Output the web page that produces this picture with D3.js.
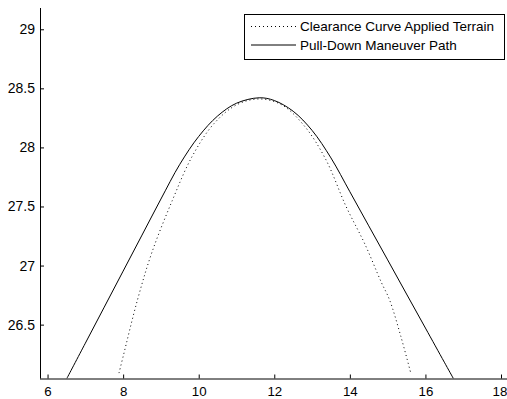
<!DOCTYPE html>
<html><head><meta charset="utf-8">
<script src="https://cdn.jsdelivr.net/npm/d3@7"></script>
<style>
html,body{margin:0;padding:0;background:#fff;}
svg{display:block;}
text{font-family:"Liberation Sans",Arial,sans-serif;fill:#000;}
</style></head><body>
<svg id="chart" width="507" height="399"></svg>
<script>
// ---- data ----
const xTicks = [6, 8, 10, 12, 14, 16, 18];
const yTicks = [26.5, 27, 27.5, 28, 28.5, 29];
const yTickLabels = ["26.5", "27", "27.5", "28", "28.5", "29"];

// Clearance Curve Applied Terrain (dotted)
const clearX = [7.89, 8.0, 8.38, 8.76, 9.3, 9.82, 10.4, 11.0, 11.6, 12.2, 12.8, 13.36, 13.9, 14.4, 14.83, 15.05, 15.35, 15.62];
const clearY = [26.09, 26.23, 26.71, 27.11, 27.55, 27.92, 28.2, 28.36, 28.41, 28.36, 28.18, 27.90, 27.50, 27.18, 26.86, 26.71, 26.40, 26.08];

// Pull-Down Maneuver Path (solid)
const pathX = [6.51, 7.0, 7.5, 8.0, 8.5, 9.0, 9.5, 10.0, 10.5, 11.0, 11.6, 12.0, 12.5, 13.0, 13.5, 14.0, 14.5, 15.0, 15.5, 16.0, 16.5, 16.74];
const pathY = [26.044, 26.343, 26.648, 26.953, 27.258, 27.563, 27.857, 28.093, 28.266, 28.374, 28.42, 28.397, 28.306, 28.144, 27.911, 27.625, 27.336, 27.048, 26.759, 26.471, 26.182, 26.044];

const seriesNames = ["Clearance Curve Applied Terrain", "Pull-Down Maneuver Path"];

// ---- layout ----
const svg = d3.select("#chart");
const plot = {left: 40, right: 507, top: 8, bottom: 378.5};
const x = d3.scaleLinear().domain([5.8, 18.0 + (507 - 501) / 37.8]).range([plot.left, plot.right]);
const y = d3.scaleLinear().domain([26.044, 29.18]).range([plot.bottom, plot.top]);

svg.append("defs").append("clipPath").attr("id", "clip")
  .append("rect").attr("x", plot.left).attr("y", plot.top)
  .attr("width", plot.right - plot.left).attr("height", plot.bottom - plot.top);

const line = d3.line().x(d => x(d[0])).y(d => y(d[1])).curve(d3.curveCatmullRom.alpha(0.5));

const g = svg.append("g").attr("clip-path", "url(#clip)");
g.append("path").datum(clearX.map((v, i) => [v, clearY[i]]))
  .attr("d", line).attr("fill", "none").attr("stroke", "#000")
  .attr("stroke-width", 1).attr("stroke-dasharray", "1,3");
g.append("path").datum(pathX.map((v, i) => [v, pathY[i]]))
  .attr("d", line).attr("fill", "none").attr("stroke", "#000")
  .attr("stroke-width", 1);

// ---- axes (MATLAB style, inward ticks) ----
const xAxis = d3.axisBottom(x).tickValues(xTicks).tickSize(-4).tickPadding(8).tickFormat(d3.format("d"));
const gx = svg.append("g").attr("transform", `translate(0,${plot.bottom})`).call(xAxis);
gx.select(".domain").attr("d", `M${plot.left},0.5H${plot.right}`).attr("stroke", "#000");
gx.selectAll(".tick line").attr("stroke", "#000");
gx.selectAll(".tick text").attr("font-size", 13.3).attr("font-family", "Liberation Sans, Arial, sans-serif").attr("dy", "0.71em")
  .attr("dx", d => d === 18 ? -1.5 : 0);

const yAxis = d3.axisLeft(y).tickValues(yTicks).tickSize(-4).tickPadding(5).tickFormat((d, i) => yTickLabels[i]);
const gy = svg.append("g").attr("transform", `translate(${plot.left},0)`).call(yAxis);
gy.select(".domain").attr("d", `M0.5,${plot.top}V${plot.bottom}`).attr("stroke", "#000");
gy.selectAll(".tick line").attr("stroke", "#000");
gy.selectAll(".tick text").attr("font-size", 14).attr("font-family", "Liberation Sans, Arial, sans-serif");

// ---- legend ----
const leg = svg.append("g");
leg.append("rect").attr("x", 244.5).attr("y", 14.5).attr("width", 260).attr("height", 45)
  .attr("fill", "#fff").attr("stroke", "#000").attr("stroke-width", 1);
const rowsY = [26, 44.5];
seriesNames.forEach((name, i) => {
  leg.append("line").attr("x1", 251).attr("x2", 296).attr("y1", rowsY[i] + 0.5).attr("y2", rowsY[i] + 0.5)
    .attr("stroke", "#000").attr("stroke-width", 1)
    .attr("stroke-dasharray", i === 0 ? "1,3" : null);
  leg.append("text").attr("x", 300).attr("y", rowsY[i] + 5).attr("font-size", 13.5).text(name);
});
</script>
</body></html>
